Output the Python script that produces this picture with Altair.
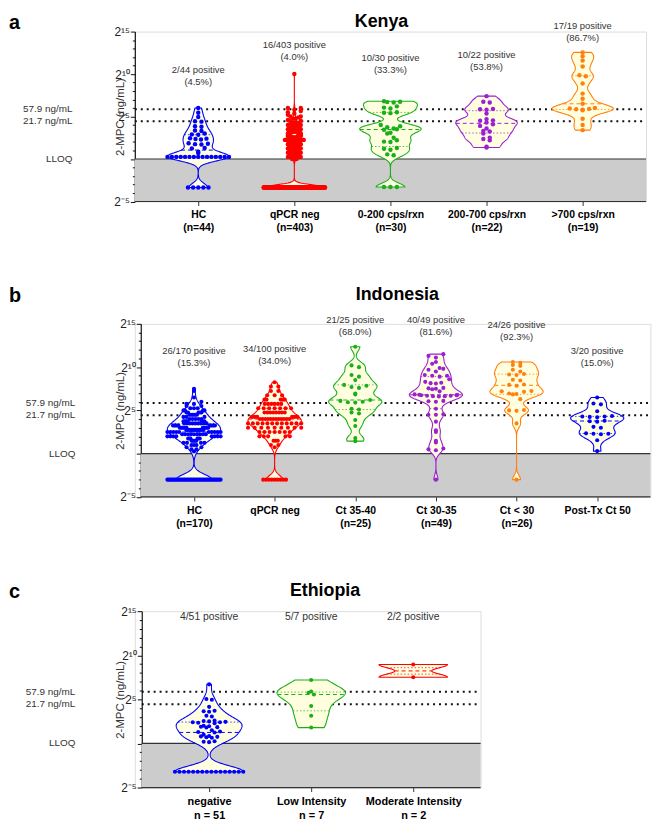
import json
import altair as alt
import pandas as pd

# ---------------- colours / fonts ----------------
BLUE, RED, GREEN, PURPLE, ORANGE = "#0000FF", "#FF0000", "#1AAF1A", "#9B1FD3", "#FF800D"
VIOLIN_FILL = "#FFFFE0"
GREY = "#CCCCCC"
FONT = "Liberation Sans"

# ---------------- shared reference levels ----------------
thresholds_ng = [57.9, 21.7]
threshold_labels = ["57.9 ng/mL", "21.7 ng/mL"]
lloq_ng = 1.0
lloq_label = "LLOQ"


def expand(pairs):
    out = []
    for v, c in pairs:
        out.extend([v] * c)
    return out


# ---------------- a: Kenya (log2 of 2-MPC, ng/mL) ----------------
kenya_categories = [["HC", "(n=44)"], ["qPCR neg", "(n=403)"], ["0-200 cps/rxn", "(n=30)"],
                    ["200-700 cps/rxn", "(n=22)"], [">700 cps/rxn", "(n=19)"]]
kenya_colors = [BLUE, RED, GREEN, PURPLE, ORANGE]
kenya_hc = expand([(-3.35, 5), (0.25, 15)]) + [
    0.7, 0.85, 1.25, 1.3, 1.7, 1.75, 1.8, 1.85, 2.3, 2.35, 2.4, 2.45, 2.85, 2.9, 3.0,
    3.3, 3.35, 3.8, 3.85, 4.4, 4.45, 4.95, 5.45, 6.0]
kenya_qpcr_neg = expand([
    (-3.35, 200), (0.0, 4), (0.25, 6), (0.5, 8), (0.75, 10), (1.0, 11), (1.25, 12), (1.5, 14),
    (1.75, 15), (2.0, 16), (2.25, 16), (2.5, 15), (2.75, 14), (3.0, 12), (3.25, 10), (3.5, 8),
    (3.75, 6), (4.0, 5), (4.25, 5), (4.5, 2), (4.6, 1), (4.75, 2), (4.9, 1), (5.0, 2), (5.2, 1),
    (5.35, 1), (5.5, 1), (5.65, 1), (5.8, 1), (6.0, 2), (10.0, 1)])
kenya_0_200 = [-3.3, -3.3, -3.3, 0.45, 0.55, 1.1, 1.2, 1.3, 2.0, 2.05, 2.2, 2.5, 3.0, 3.1, 3.45,
               3.5, 3.6, 3.75, 3.85, 4.0, 5.4, 5.45, 5.5, 5.95, 6.05, 6.2, 6.65, 6.7, 6.75, 6.8]
kenya_200_700 = [1.35, 1.45, 2.2, 2.35, 2.5, 3.0, 3.25, 3.3, 3.6, 3.9, 4.1, 4.3, 4.5, 4.55, 4.7,
                 5.35, 5.8, 5.85, 5.9, 6.65, 6.75, 7.4]
kenya_over_700 = [3.4, 4.0, 4.75, 5.75, 5.8, 5.85, 5.9, 5.95, 6.0, 6.5, 7.1, 7.7, 8.9, 9.75, 9.85,
                  10.9, 11.6, 12.1, 12.55]
kenya_positive = ["2/44 positive\n(4.5%)", "16/403 positive\n(4.0%)", "10/30 positive\n(33.3%)",
                  "10/22 positive\n(53.8%)", "17/19 positive\n(86.7%)"]
kenya_positive_level = [10.5, 13.4, 11.9, 12.25, 15.6]   # level of the first text line

# ---------------- b: Indonesia ----------------
indo_categories = [["HC", "(n=170)"], ["qPCR neg"], ["Ct 35-40", "(n=25)"], ["Ct 30-35", "(n=49)"],
                   ["Ct < 30", "(n=26)"], ["Post-Tx Ct 50"]]
indo_colors = [BLUE, RED, GREEN, PURPLE, ORANGE, BLUE]
indo_hc = expand([
    (-3.0, 38), (0.25, 1), (0.5, 2), (0.75, 2), (1.0, 3), (1.25, 4), (1.5, 5), (1.75, 6), (2.0, 8),
    (2.25, 9), (2.5, 10), (2.75, 11), (3.0, 11), (3.25, 10), (3.5, 9), (3.75, 7), (4.0, 5),
    (4.25, 3), (4.5, 6), (4.75, 5), (5.0, 4), (5.25, 3), (5.5, 2), (5.75, 2), (6.0, 1), (6.5, 1),
    (7.25, 1), (7.5, 1)])
indo_qpcr_neg = expand([
    (-3.0, 9), (0.75, 1), (1.0, 2), (1.5, 3), (2.0, 5), (2.5, 7), (3.0, 9), (3.5, 12), (4.0, 12),
    (4.25, 6), (4.75, 8), (5.25, 7), (5.75, 6), (6.25, 5), (6.75, 3), (7.25, 2), (7.75, 2), (8.25, 1)])
indo_ct35_40 = [1.45, 1.8, 3.2, 3.9, 4.65, 4.75, 5.1, 5.2, 5.9, 5.95, 6.0, 6.1, 6.2, 6.85, 6.95, 7.6,
                7.7, 7.85, 7.95, 8.5, 8.9, 9.1, 10.0, 10.2, 12.35]
indo_ct30_35 = [-3.0, 0.4, 0.5, 0.6, 1.3, 1.5, 2.5, 2.7, 3.7, 4.5, 4.5, 4.55, 5.2, 6.0, 6.05, 6.1,
                6.6, 6.65, 6.65, 6.7, 6.7, 6.75, 6.75, 6.8, 6.8, 6.85, 7.2, 7.45, 7.5, 7.55, 7.6,
                8.1, 8.15, 8.2, 8.3, 8.6, 8.9, 9.0, 9.0, 9.1, 9.5, 9.7, 9.8, 9.9, 10.4, 10.6, 11.1,
                11.3, 11.5]
indo_ct_below30 = [-3.0, 3.5, 4.95, 5.0, 5.05, 6.3, 6.85, 6.9, 6.95, 7.15, 7.2, 7.25, 7.85, 7.95,
                   8.0, 8.45, 8.55, 9.1, 9.15, 9.2, 9.5, 9.7, 10.15, 10.25, 10.5, 10.6]
indo_post_tx = [0.3, 1.55, 2.25, 2.3, 2.3, 2.35, 3.0, 3.1, 3.7, 3.75, 3.8, 4.2, 4.25, 4.3, 4.3,
                4.35, 4.9, 5.7, 5.8, 6.5]
indo_positive = ["26/170 positive\n(15.3%)", "34/100 positive\n(34.0%)", "21/25 positive\n(68.0%)",
                 "40/49 positive\n(81.6%)", "24/26 positive\n(92.3%)", "3/20 positive\n(15.0%)"]
indo_positive_level = [11.85, 12.1, 15.4, 15.4, 14.9, 11.85]

# ---------------- c: Ethiopia ----------------
eth_categories = [["negative", "n = 51"], ["Low Intensity", "n = 7"], ["Moderate Intensity", "n = 2"]]
eth_colors = [BLUE, GREEN, RED]
eth_negative = expand([(-3.2, 16)]) + [
    0.15, 0.2, 0.25, 0.65, 0.7, 0.75, 0.8, 0.85, 1.0, 1.25, 1.3, 1.35, 1.5, 1.8, 1.85, 1.9, 1.95,
    2.0, 2.3, 2.35, 2.4, 2.4, 2.45, 2.5, 2.55, 2.6, 3.05, 3.15, 3.6, 3.65, 3.7, 4.15, 4.95, 5.05, 6.7]
eth_low = [1.8, 3.15, 4.25, 5.55, 5.75, 5.9, 7.2]
eth_moderate = [7.5, 8.95]
eth_positive = ["4/51 positive", "5/7 positive", "2/2 positive"]
eth_positive_level = [14.3, 14.3, 14.3]

LOG2 = "log(datum.ng) / LN2"
Y_LABELS = ("datum.value == 15 ? '2\u00b9\u2075' : datum.value == 10 ? '2\u00b9\u2070' : "
            "datum.value == 5 ? '2\u2075' : datum.value == -5 ? '2\u207b\u2075' : ''")


def make_panel(groups, colors, cats, pos_labels, pos_levels, plot_w, height, axis_shift, title,
               title_cx, head_y, letter, letter_x, ann_x, ytitle_x, half_w, sp_px, row_bin,
               dot_size, lab_fs, xlab_fs, xlab_lh, bws):
    n = len(groups)
    pad = 0.66
    step = plot_w / (n - 1 + 2 * pad)
    x_lo, x_hi = -pad, n - 1 + pad          # visible data area (from the y axis rightwards)
    xs = alt.Scale(domain=[x_lo - axis_shift / step, x_hi], zero=False, nice=False)
    ys = alt.Scale(domain=[-5, 15], zero=False, nice=False)
    sp = sp_px / step

    pts_df = pd.DataFrame([{"g": i, "v": v, "c": colors[i]}
                           for i, vals in enumerate(groups) for v in vals])
    thr_df = pd.DataFrame({"ng": thresholds_ng})
    ann_df = pd.DataFrame({"ng": thresholds_ng + [lloq_ng], "t": threshold_labels + [lloq_label]})
    lloq_df = pd.DataFrame({"ng": [lloq_ng]})
    lab_df = pd.DataFrame({"g": list(range(n)), "t": pos_labels, "lv": pos_levels})
    head_df = pd.DataFrame({"t": [title], "l": [letter]})

    xaxis = alt.Axis(values=list(range(n)), labelExpr=json.dumps(cats) + "[datum.value]",
                     title=None, grid=False, domain=False, tickSize=4, tickColor="#333",
                     labelFont=FONT, labelFontWeight="bold",
                     labelFontSize=xlab_fs, labelColor="black", labelPadding=4.5,
                     labelOverlap=False, labelFlush=False, labelLineHeight=xlab_lh,
                     labelBaseline="top")
    yaxis = alt.Axis(values=list(range(-5, 16)), labelExpr=Y_LABELS, title="2-MPC (ng/mL)",
                     offset=-axis_shift,
                     grid=False, domainColor="#111", domainWidth=1.2, tickColor="#111",
                     tickSize={"condition": {"test": "datum.value % 5 === 0", "value": 4.5},
                               "value": 2.5},
                     labelFont=FONT, labelFontSize=12, labelColor="#222", labelPadding=1,
                     labelOverlap=False, labelFlush=False,
                     titleFont=FONT, titleFontWeight="normal", titleFontSize=11.5,
                     titleColor="#333", titleX=ytitle_x, titleY=height / 2,
                     titleBaseline="alphabetic", titleAngle=270, titleAlign="center")

    def X(field):
        return alt.X(field, scale=xs, axis=xaxis)

    def Y(field):
        return alt.Y(field, scale=ys, axis=yaxis)

    XLO = alt.XDatum(x_lo, scale=xs, axis=xaxis)
    XHI = alt.X2Datum(x_hi)

    layers = []
    layers.append(
        alt.Chart(lloq_df).transform_calculate(lv=LOG2).mark_rect(color=GREY).encode(
            x=XLO, x2=XHI, y=Y("lv:Q"), y2=alt.Y2Datum(-5)))
    layers.append(
        alt.Chart(thr_df).transform_calculate(lv=LOG2).mark_rule(
            color="#111", strokeDash=[2, 4], strokeWidth=2).encode(x=XLO, x2=XHI, y=Y("lv:Q")))
    layers.append(
        alt.Chart(lloq_df).transform_calculate(lv=LOG2).mark_rule(
            color="#333", strokeWidth=1.2).encode(x=XLO, x2=XHI, y=Y("lv:Q")))
    # bottom axis line, drawn from the y axis to the right end
    layers.append(
        alt.Chart(lloq_df).mark_rule(color="#333", strokeWidth=1.2).encode(
            x=XLO, x2=XHI, y=alt.YDatum(-5, scale=ys, axis=yaxis)))

    for i in range(n):
        col = colors[i]
        base = (alt.Chart(pts_df)
                .transform_filter(f"datum.g == {i}")
                .transform_joinaggregate(q1="q1(v)", med="median(v)", q3="q3(v)")
                .transform_density("v", groupby=["q1", "med", "q3"], as_=["v", "d"],
                                   bandwidth=bws[i], steps=200)
                .transform_joinaggregate(dmax="max(d)")
                .transform_calculate(xl=f"{i} - {half_w} * datum.d / datum.dmax",
                                     xr=f"{i} + {half_w} * datum.d / datum.dmax"))
        layers.append(base.mark_area(orient="horizontal", fill=VIOLIN_FILL, stroke=col,
                                     strokeWidth=1.1).encode(
            y=Y("v:Q"), x=X("xl:Q"), x2="xr:Q"))
        for q, dash, op in [("q1", [1.5, 2], 0.75), ("med", [4, 3], 1.0), ("q3", [1.5, 2], 0.75)]:
            layers.append(
                base.transform_calculate(dist=f"abs(datum.v - datum.{q})")
                .transform_joinaggregate(mind="min(dist)")
                .transform_filter("datum.dist == datum.mind")
                .mark_rule(color=col, strokeDash=dash, strokeWidth=1, opacity=op)
                .encode(y=Y(f"{q}:Q"), x=X("xl:Q"), x2="xr:Q"))

    pts = (alt.Chart(pts_df)
           .transform_calculate(fr=f"round(datum.v / {row_bin})", cr="round(datum.v / 0.8)")
           .transform_joinaggregate(fcnt="count()", groupby=["g", "fr"])
           .transform_joinaggregate(ccnt="count()", groupby=["g", "cr"])
           .transform_joinaggregate(cmax="max(ccnt)", groupby=["g"])
           .transform_window(k="row_number()", groupby=["g", "fr"],
                             sort=[alt.SortField("v", order="ascending")])
           .transform_calculate(
               cap=f"max({half_w} * datum.ccnt / datum.cmax, {sp})",
               spe=f"datum.fcnt > 1 ? min({sp}, 2 * datum.cap / (datum.fcnt - 1)) : {sp}",
               slot="(datum.k - 1) % 2 == 0 ? (datum.k - 1) / 2 : -datum.k / 2",
               xo="datum.g + (datum.slot + (datum.fcnt % 2 == 0 ? 0.5 : 0)) * datum.spe")
           .mark_circle(size=dot_size, opacity=1)
           .encode(x=X("xo:Q"), y=Y("v:Q"), color=alt.Color("c:N", scale=None)))
    layers.append(pts)

    layers.append(
        alt.Chart(lab_df).mark_text(font=FONT, fontSize=lab_fs, color="#333", lineBreak="\n",
                                    baseline="middle", lineHeight=lab_fs + 2.5).encode(
            x=X("g:Q"), y=Y("lv:Q"), text="t:N"))
    layers.append(
        alt.Chart(ann_df).transform_calculate(lv=LOG2).mark_text(
            font=FONT, fontSize=10, color="#333", align="right", baseline="middle").encode(
            x=alt.value(ann_x), y=Y("lv:Q"), text="t:N"))
    layers.append(
        alt.Chart(head_df).mark_text(font=FONT, fontSize=18, fontWeight="bold", color="black",
                                     align="center", baseline="top").encode(
            x=alt.value(title_cx), y=alt.value(head_y), text="t:N"))
    layers.append(
        alt.Chart(head_df).mark_text(font=FONT, fontSize=20, fontWeight="bold", color="black",
                                     align="left", baseline="top").encode(
            x=alt.value(letter_x), y=alt.value(head_y), text="l:N"))

    return alt.layer(*layers).properties(width=plot_w + axis_shift, height=height)


panel_a = make_panel(
    [kenya_hc, kenya_qpcr_neg, kenya_0_200, kenya_200_700, kenya_over_700], kenya_colors,
    kenya_categories, kenya_positive, kenya_positive_level,
    plot_w=516, height=171.5, axis_shift=0, title="Kenya", title_cx=249, head_y=-19,
    letter="a", letter_x=-127, ann_x=-63, ytitle_x=-11, half_w=0.32, sp_px=6.5, row_bin=0.55,
    dot_size=20, lab_fs=9.5, xlab_fs=10.5, xlab_lh=13, bws=[0.5, 0.3, 0.45, 0.45, 0.5])

panel_b = make_panel(
    [indo_hc, indo_qpcr_neg, indo_ct35_40, indo_ct30_35, indo_ct_below30, indo_post_tx],
    indo_colors, indo_categories, indo_positive, indo_positive_level,
    plot_w=514.4, height=174.7, axis_shift=6, title="Indonesia", title_cx=265, head_y=-38,
    letter="b", letter_x=-127, ann_x=-60, ytitle_x=-17, half_w=0.33, sp_px=7.5, row_bin=0.6,
    dot_size=17, lab_fs=9.5, xlab_fs=10.5, xlab_lh=13, bws=[0.6, 0.5, 0.5, 0.5, 0.5, 0.5])

panel_c = make_panel(
    [eth_negative, eth_low, eth_moderate], eth_colors, eth_categories, eth_positive,
    eth_positive_level,
    plot_w=342, height=178, axis_shift=7, title="Ethiopia", title_cx=192, head_y=-29.3,
    letter="c", letter_x=-127, ann_x=-60, ytitle_x=-18, half_w=0.335, sp_px=5.5, row_bin=0.55,
    dot_size=17, lab_fs=10.5, xlab_fs=11, xlab_lh=14, bws=[0.65, 0.8, 0.45])

chart = (alt.vconcat(panel_a, alt.vconcat(panel_b, panel_c, spacing=52), spacing=52)
         .properties(padding={"left": 0, "top": 0, "right": 0, "bottom": 0})
         .configure_view(strokeWidth=0)
         .configure(font=FONT, padding={"left": 0, "top": 0, "right": 0, "bottom": 0}))

chart.save("out.html", embed_options={"renderer": "svg", "actions": False})
